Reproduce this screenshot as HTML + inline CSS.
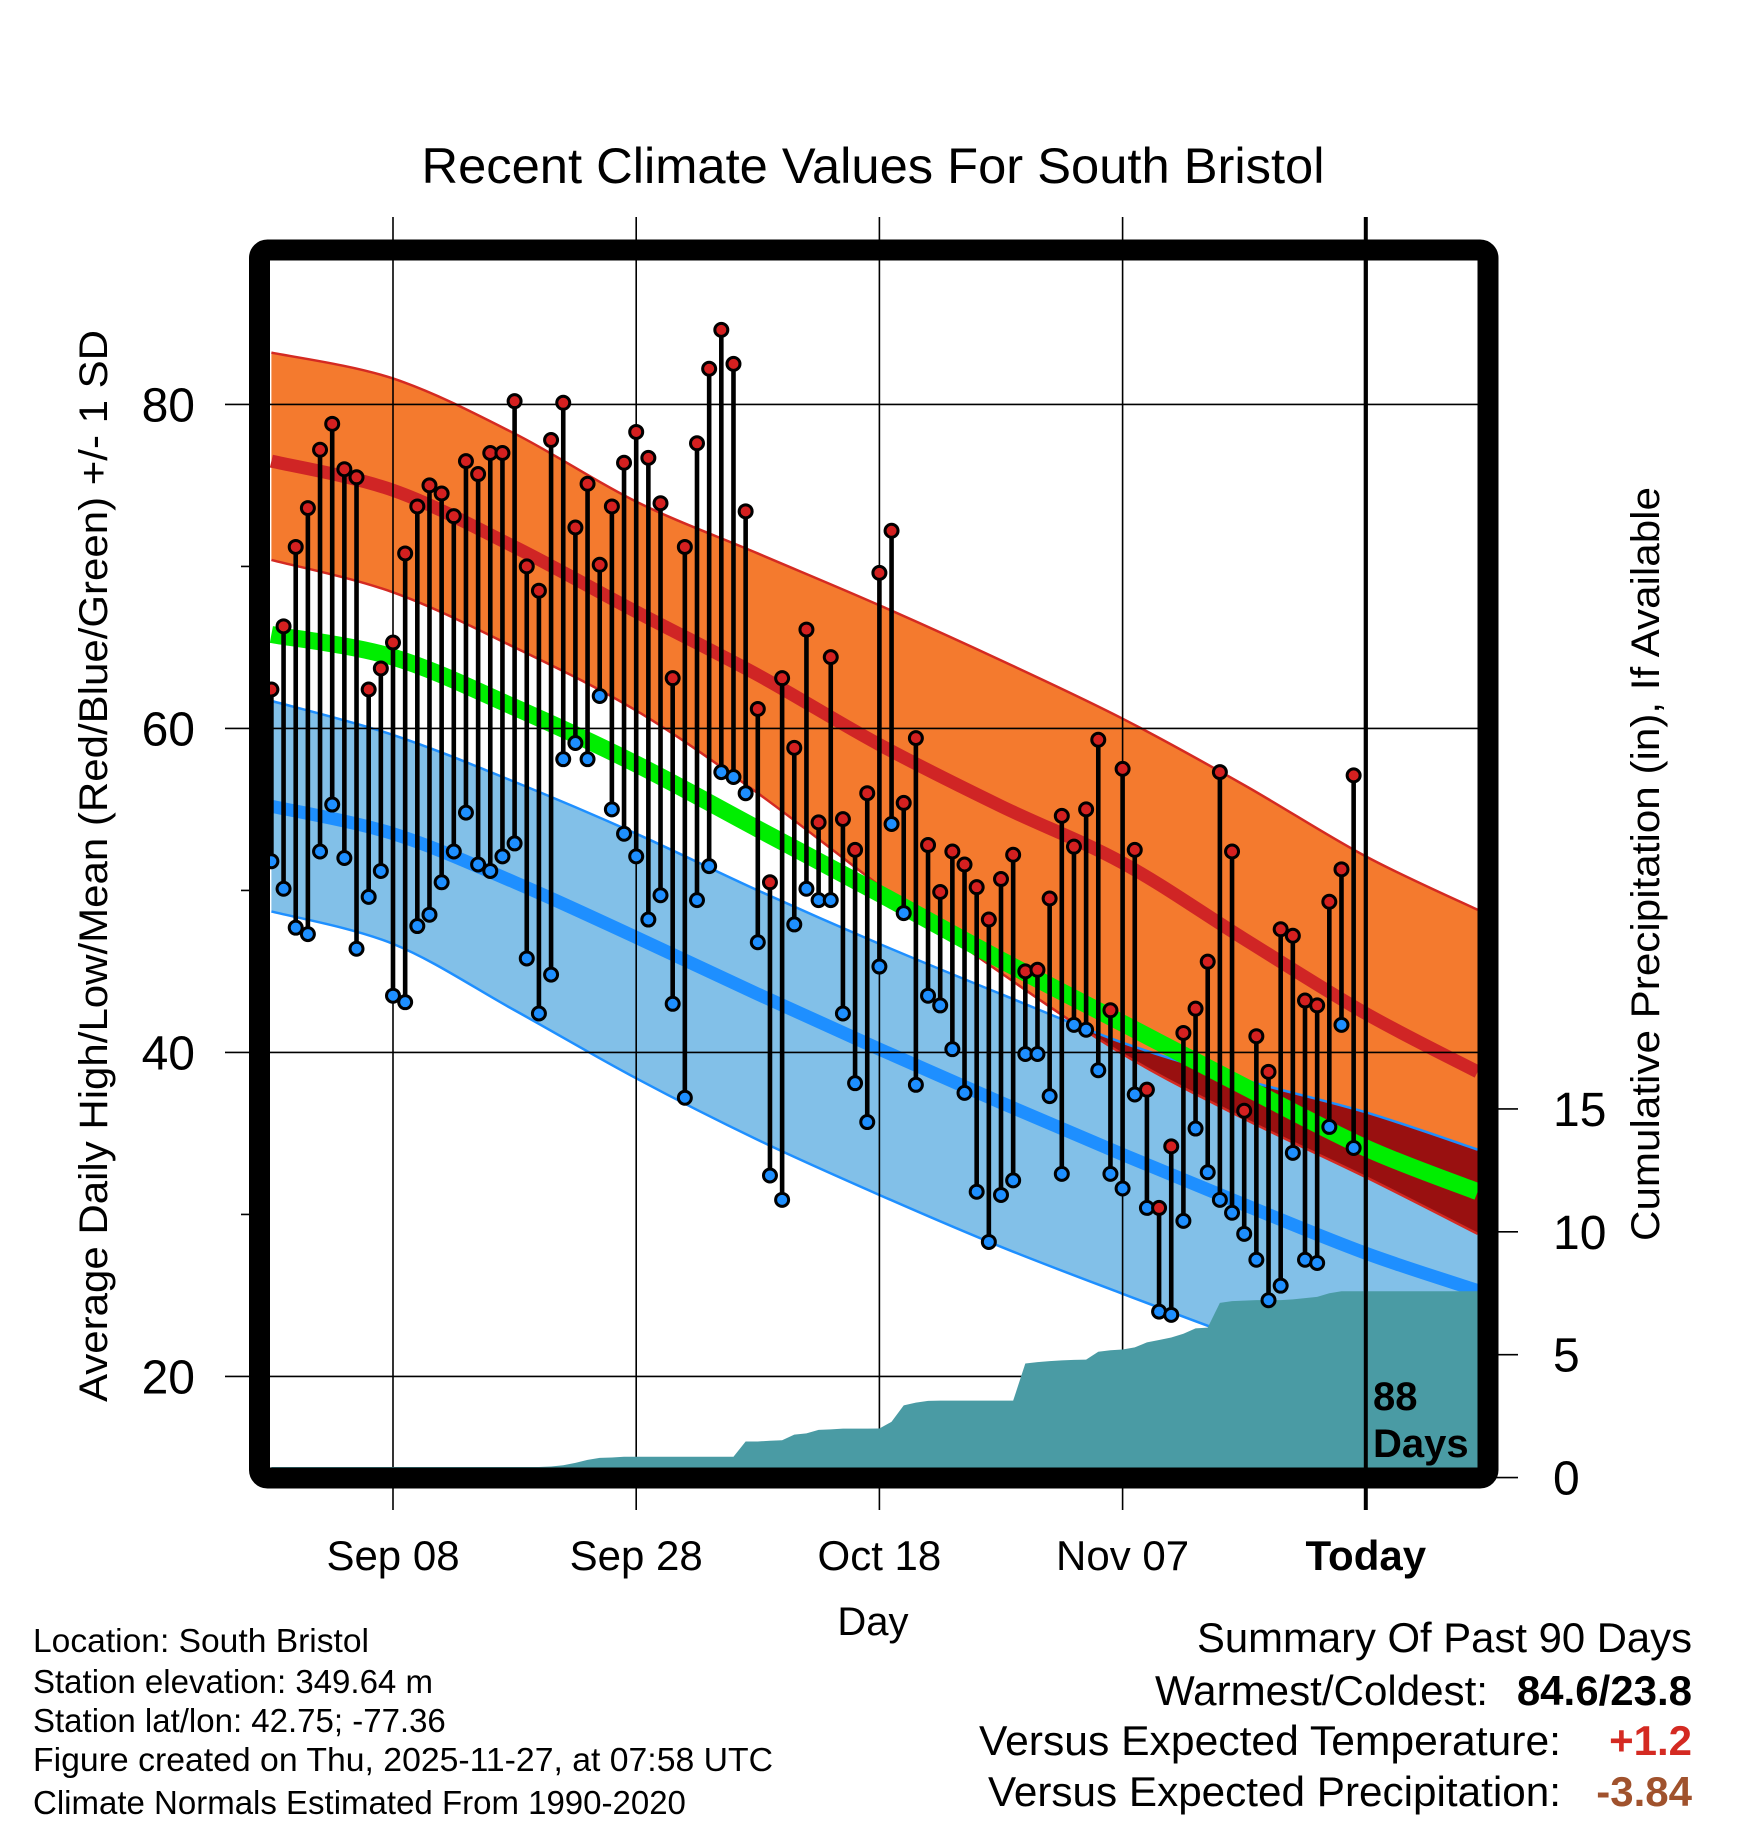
<!DOCTYPE html>
<html><head><meta charset="utf-8"><style>
html,body{margin:0;padding:0;background:#fff}
svg{display:block}
text{font-family:"Liberation Sans",Arial,sans-serif}
</style></head><body>
<svg id="chart" width="1748" height="1828" viewBox="0 0 1748 1828" xmlns="http://www.w3.org/2000/svg">
<defs><clipPath id="plotClip"><rect x="270" y="260" width="1208" height="1208"/></clipPath></defs>
<text x="873" y="183" font-size="50" text-anchor="middle" textLength="903" lengthAdjust="spacingAndGlyphs">Recent Climate Values For South Bristol</text>
<g id="bands" clip-path="url(#plotClip)"></g>
<g id="grid"></g>
<g id="precip" clip-path="url(#plotClip)"></g>
<g id="marks" clip-path="url(#plotClip)"></g>
<g id="axes"></g>
<text font-size="40" font-weight="bold" x="1373" y="1410">88</text>
<text font-size="40" font-weight="bold" x="1373" y="1457">Days</text>
<text x="873" y="1635" font-size="40" text-anchor="middle">Day</text>
<text transform="translate(107,866) rotate(-90)" font-size="40" text-anchor="middle" textLength="1072" lengthAdjust="spacingAndGlyphs">Average Daily High/Low/Mean (Red/Blue/Green) +/- 1 SD</text>
<text transform="translate(1659,864) rotate(-90)" font-size="40" text-anchor="middle" textLength="754" lengthAdjust="spacingAndGlyphs">Cumulative Precipitation (in), If Available</text>
<g font-size="33">
<text x="33" y="1652" textLength="336" lengthAdjust="spacingAndGlyphs">Location: South Bristol</text>
<text x="33" y="1693">Station elevation: 349.64 m</text>
<text x="33" y="1732">Station lat/lon: 42.75; -77.36</text>
<text x="33" y="1771" textLength="740" lengthAdjust="spacingAndGlyphs">Figure created on Thu, 2025-11-27, at 07:58 UTC</text>
<text x="33" y="1814">Climate Normals Estimated From 1990-2020</text>
</g>
<g font-size="42">
<text x="1692" y="1652" text-anchor="end" textLength="495" lengthAdjust="spacingAndGlyphs">Summary Of Past 90 Days</text>
<text x="1488" y="1705" text-anchor="end" textLength="333" lengthAdjust="spacingAndGlyphs">Warmest/Coldest:</text>
<text x="1692" y="1705" text-anchor="end" font-weight="bold">84.6/23.8</text>
<text x="1561" y="1755" text-anchor="end" textLength="582" lengthAdjust="spacingAndGlyphs">Versus Expected Temperature:</text>
<text x="1692" y="1755" text-anchor="end" font-weight="bold" fill="#d42a22">+1.2</text>
<text x="1561" y="1806" text-anchor="end" textLength="573" lengthAdjust="spacingAndGlyphs">Versus Expected Precipitation:</text>
<text x="1692" y="1806" text-anchor="end" font-weight="bold" fill="#a0522d">-3.84</text>
</g>
</svg>
<script>
const highs=[62.4,66.3,71.2,73.6,77.2,78.8,76.0,75.5,62.4,63.7,65.3,70.8,73.7,75.0,74.5,73.1,76.5,75.7,77.0,77.0,80.2,70.0,68.5,77.8,80.1,72.4,75.1,70.1,73.7,76.4,78.3,76.7,73.9,63.1,71.2,77.6,82.2,84.6,82.5,73.4,61.2,50.5,63.1,58.8,66.1,54.2,64.4,54.4,52.5,56.0,69.6,72.2,55.4,59.4,52.8,49.9,52.4,51.6,50.2,48.2,50.7,52.2,45.0,45.1,49.5,54.6,52.7,55.0,59.3,42.6,57.5,52.5,37.7,30.4,34.2,41.2,42.7,45.6,57.3,52.4,36.4,41.0,38.8,47.6,47.2,43.2,42.9,49.3,51.3,57.1];
const lows=[51.8,50.1,47.7,47.3,52.4,55.3,52.0,46.4,49.6,51.2,43.5,43.1,47.8,48.5,50.5,52.4,54.8,51.6,51.2,52.1,52.9,45.8,42.4,44.8,58.1,59.1,58.1,62.0,55.0,53.5,52.1,48.2,49.7,43.0,37.2,49.4,51.5,57.3,57.0,56.0,46.8,32.4,30.9,47.9,50.1,49.4,49.4,42.4,38.1,35.7,45.3,54.1,48.6,38.0,43.5,42.9,40.2,37.5,31.4,28.3,31.2,32.1,39.9,39.9,37.3,32.5,41.7,41.4,38.9,32.5,31.6,37.4,30.4,24.0,23.8,29.6,35.3,32.6,30.9,30.1,28.8,27.2,24.7,25.6,33.8,27.2,27.0,35.4,41.7,34.1];
const precip=[0.43,0.43,0.43,0.43,0.43,0.43,0.43,0.43,0.43,0.43,0.43,0.43,0.43,0.43,0.43,0.43,0.43,0.43,0.43,0.43,0.43,0.43,0.43,0.45,0.5,0.6,0.72,0.8,0.82,0.85,0.85,0.85,0.85,0.85,0.85,0.85,0.85,0.85,0.85,1.47,1.47,1.5,1.52,1.75,1.8,1.94,1.96,1.99,1.99,1.99,2.0,2.27,2.94,3.05,3.12,3.13,3.13,3.13,3.13,3.13,3.13,3.13,4.64,4.7,4.74,4.77,4.79,4.8,5.12,5.18,5.21,5.3,5.5,5.6,5.7,5.85,6.07,6.1,7.11,7.18,7.2,7.22,7.22,7.22,7.25,7.3,7.35,7.5,7.58,7.58];
const normDays=[0,10,20,30,40,50,60,70,80,90,99.2];
const highPlusSD=[83.2,81.6,78.2,74.0,70.8,67.6,64.2,60.6,56.5,52.1,48.8];
const highMean=[76.5,74.7,71.2,67.2,63.3,59.0,55.2,51.7,47.0,42.4,38.8];
const highMinusSD=[70.4,68.4,65.0,61.1,56.0,50.3,44.9,39.9,35.9,32.3,28.8];
const avgMean=[65.8,64.4,61.3,57.8,53.8,49.8,45.7,41.8,37.9,34.1,31.4];
const lowPlusSD=[61.7,59.6,56.7,53.5,50.0,46.7,43.6,40.6,38.3,36.3,34.0];
const lowMean=[55.2,53.5,50.5,47.1,43.6,40.2,36.9,33.7,30.6,27.6,25.3];
const lowMinusSD=[48.7,46.7,42.6,38.4,34.6,31.2,28.0,25.1,22.3,19.7,17.6];
const tempTicks=[20,40,60,80];
const minorTicks=[30,50,70];
const precipTicks=[0,5,10,15];
const dateTickDays=[10,30,50,70,90];
const dateTickLabels=["Sep 08","Sep 28","Oct 18","Nov 07","Today"];

const NS="http://www.w3.org/2000/svg";
const xS=d=>393+(d-10)*12.16;
const yT=t=>404.4+(80-t)*16.2;
const yP=p=>1477.6-p*24.58;
function mk(tag,attrs,parent){const e=document.createElementNS(NS,tag);for(const k in attrs)e.setAttribute(k,attrs[k]);parent.appendChild(e);return e;}
function curvePts(vals){return normDays.map((d,i)=>[xS(d),yT(vals[i])]);}
function cr(pts){let s="";for(let i=0;i<pts.length-1;i++){const p0=pts[Math.max(i-1,0)],p1=pts[i],p2=pts[i+1],p3=pts[Math.min(i+2,pts.length-1)];
const c1=[p1[0]+(p2[0]-p0[0])/6,p1[1]+(p2[1]-p0[1])/6],c2=[p2[0]-(p3[0]-p1[0])/6,p2[1]-(p3[1]-p1[1])/6];
s+=" C"+c1[0]+","+c1[1]+" "+c2[0]+","+c2[1]+" "+p2[0]+","+p2[1];}return s;}
function lineD(vals){const p=curvePts(vals);return "M"+p[0][0]+","+p[0][1]+cr(p);}
function bandD(top,bot){const a=curvePts(top),b=curvePts(bot).reverse();return "M"+a[0][0]+","+a[0][1]+cr(a)+" L"+b[0][0]+","+b[0][1]+cr(b)+" Z";}

const bands=document.getElementById('bands');
const defs=document.querySelector('defs');
const cp=mk('clipPath',{id:'lowClip'},defs);
mk('path',{d:bandD(lowPlusSD,lowMinusSD)},cp);
let e;
e=mk('path',{d:bandD(highPlusSD,highMinusSD),fill:'#f47a2e'},bands);


e=mk('path',{d:bandD(lowPlusSD,lowMinusSD),fill:'#82c0e8'},bands);


e=mk('path',{d:bandD(highPlusSD,highMinusSD),fill:'#991010','clip-path':'url(#lowClip)'},bands);


[[highPlusSD,'#d42a22',2.5],[highMinusSD,'#d42a22',2.5],[lowPlusSD,'#1e8fff',2.5],[lowMinusSD,'#1e8fff',2.5]].forEach(([v,c,w])=>{
e=mk('path',{d:lineD(v),fill:'none',stroke:c,'stroke-width':w},bands);

});
[[highMean,'#d02525',13,'normal-high-line'],[lowMean,'#1e8fff',13,'normal-low-line'],[avgMean,'#00ee00',17,'normal-mean-line']].forEach(([v,c,w,n])=>{
e=mk('path',{d:lineD(v),fill:'none',stroke:c,'stroke-width':w},bands);

});

const grid=document.getElementById('grid');
tempTicks.forEach(t=>{e=mk('line',{x1:225,x2:1478,y1:yT(t),y2:yT(t),stroke:'#000','stroke-width':1.6},grid);


e=mk('text',{x:195,y:yT(t)+17,'font-size':48,'text-anchor':'end'},grid);e.textContent=t;

});
minorTicks.forEach(t=>{e=mk('line',{x1:241,x2:260,y1:yT(t),y2:yT(t),stroke:'#000','stroke-width':1.6},grid);

});
dateTickDays.forEach((d,i)=>{const today=i===dateTickDays.length-1;
e=mk('line',{x1:xS(d),x2:xS(d),y1:217,y2:1510,stroke:'#000','stroke-width':today?4:1.6},grid);


e=mk('text',{x:xS(d),y:1570,'font-size':42,'text-anchor':'middle','font-weight':today?'bold':'normal'},grid);e.textContent=dateTickLabels[i];

});

const pg=document.getElementById('precip');
let pd="M"+xS(0)+","+yP(0);
precip.forEach((p,i)=>{pd+=" L"+xS(i)+","+yP(p);});
pd+=" L1480,"+yP(precip[precip.length-1])+" L1480,"+yP(0)+" Z";
e=mk('path',{d:pd,fill:'#4a9ba4'},pg);



const ax=document.getElementById('axes');
precipTicks.forEach(p=>{e=mk('line',{x1:1488,x2:1518,y1:yP(p),y2:yP(p),stroke:'#000','stroke-width':1.6},ax);


e=mk('text',{x:1553,y:yP(p)+17,'font-size':48},ax);e.textContent=p;

});

const mg=document.getElementById('marks');
highs.forEach((h,i)=>{const x=xS(i);
e=mk('line',{x1:x,x2:x,y1:yT(h),y2:yT(lows[i]),stroke:'#000','stroke-width':4.6},mg);

});
highs.forEach((h,i)=>{const x=xS(i);
e=mk('circle',{cx:x,cy:yT(h),r:6.5,fill:'#d42020',stroke:'#000','stroke-width':3},mg);


e=mk('circle',{cx:x,cy:yT(lows[i]),r:6.5,fill:'#1e8fff',stroke:'#000','stroke-width':3},mg);

});

e=mk('line',{x1:xS(90),x2:xS(90),y1:260,y2:1468,stroke:'#000','stroke-width':4},ax);


e=mk('rect',{x:259.5,y:250,width:1228.5,height:1228,rx:8,fill:'none',stroke:'#000','stroke-width':21},ax);


</script>
</body></html>
